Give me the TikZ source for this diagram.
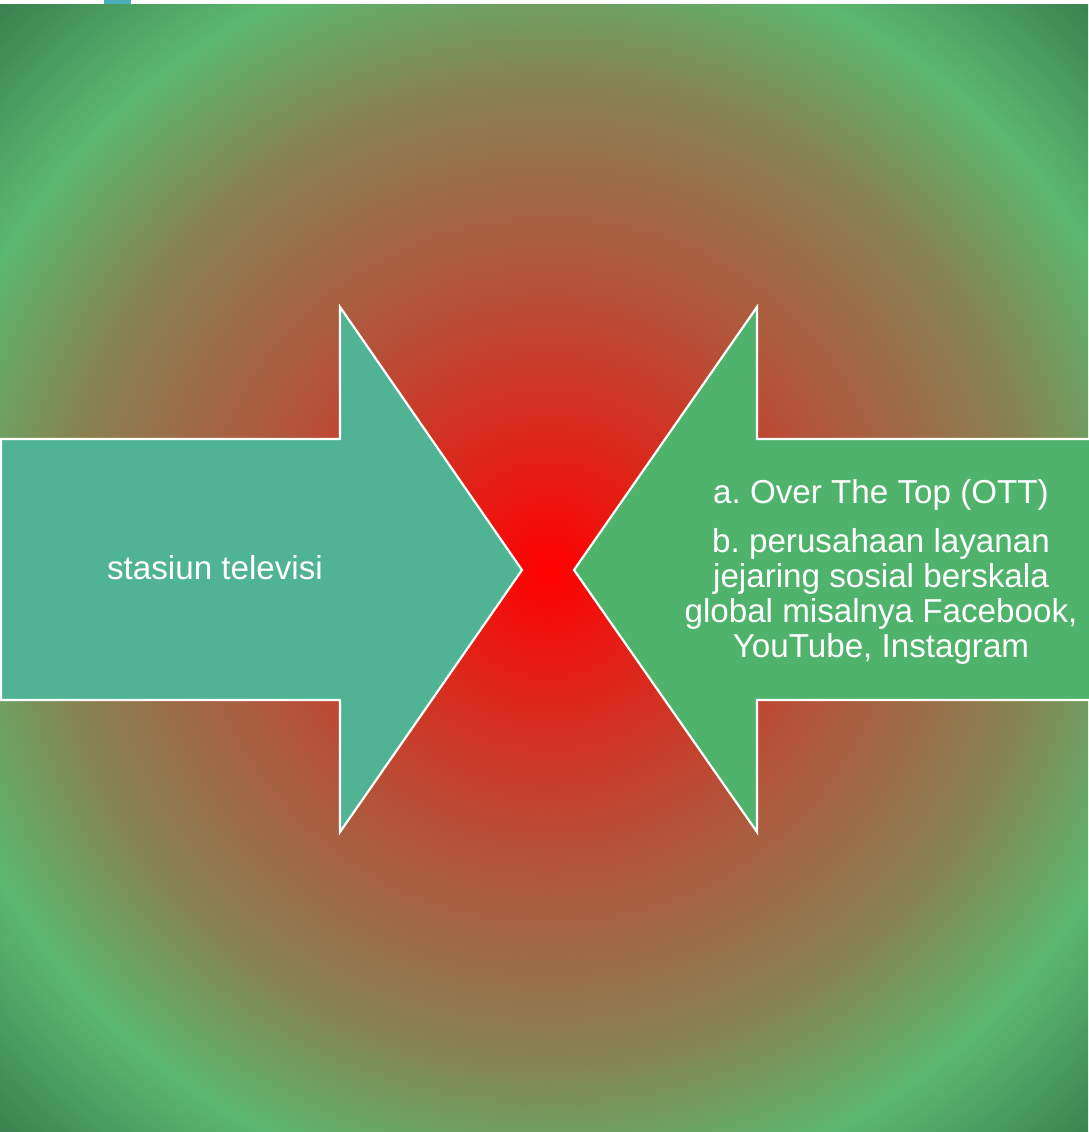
\documentclass[tikz,border=0pt]{standalone}
\usepackage{fontspec}
\setmainfont{Liberation Sans}
\frenchspacing
\definecolor{glowred}{HTML}{FF0000}
\definecolor{glowrust}{HTML}{B5523A}
\definecolor{glowolive}{HTML}{868452}
\definecolor{glowgreen}{HTML}{5BB870}
\definecolor{glowdark}{HTML}{317345}
\definecolor{tvfill}{HTML}{4FB394}
\definecolor{ottfill}{HTML}{50B36C}
\definecolor{tabteal}{HTML}{4BAEBB}
% corners come at about 26bp
\pgfdeclareradialshading{glow}{\pgfpoint{0bp}{0bp}}{%
  color(0bp)=(glowred); color(9bp)=(glowrust); color(15.6bp)=(glowolive);
  color(19.9bp)=(glowgreen); color(26.2bp)=(glowdark); color(50bp)=(glowdark)}
\usetikzlibrary{positioning}

\begin{document}
\begin{tikzpicture}[x=0.25mm,y=-0.25mm,
    arrowbox/.style={draw=white,line width=0.55mm,line join=miter},
    boxtext/.style={text=white,align=center,font=\fontsize{23.6}{24.9}\selectfont}]
  \useasboundingbox (0,0) rectangle (1088,1132);
  % background glow
  \begin{scope}
    \clip (0,4) rectangle (1088,1132);
    \shade[shading=glow] (548,570) circle (790);
  \end{scope}
  \fill[tabteal] (104,0) rectangle (131,4);
  % the two arrows
  \draw[arrowbox,fill=tvfill] (1,439) -- (340,439) -- (340,307) -- (522,570)
    -- (340,832) -- (340,700) -- (1,700) -- cycle;
  \draw[arrowbox,fill=ottfill] (1092,439) -- (757,439) -- (757,307) -- (574,570)
    -- (757,832) -- (757,700) -- (1092,700) -- cycle;
  \node[boxtext] (tv) at (215,568) {stasiun televisi};
  \node[boxtext] (ott) at (881,572) {a. Over The Top (OTT)\\[10pt]
    b. perusahaan layanan\\jejaring sosial berskala\\
    global misalnya Facebook,\\YouTube, Instagram};
\end{tikzpicture}
\end{document}
